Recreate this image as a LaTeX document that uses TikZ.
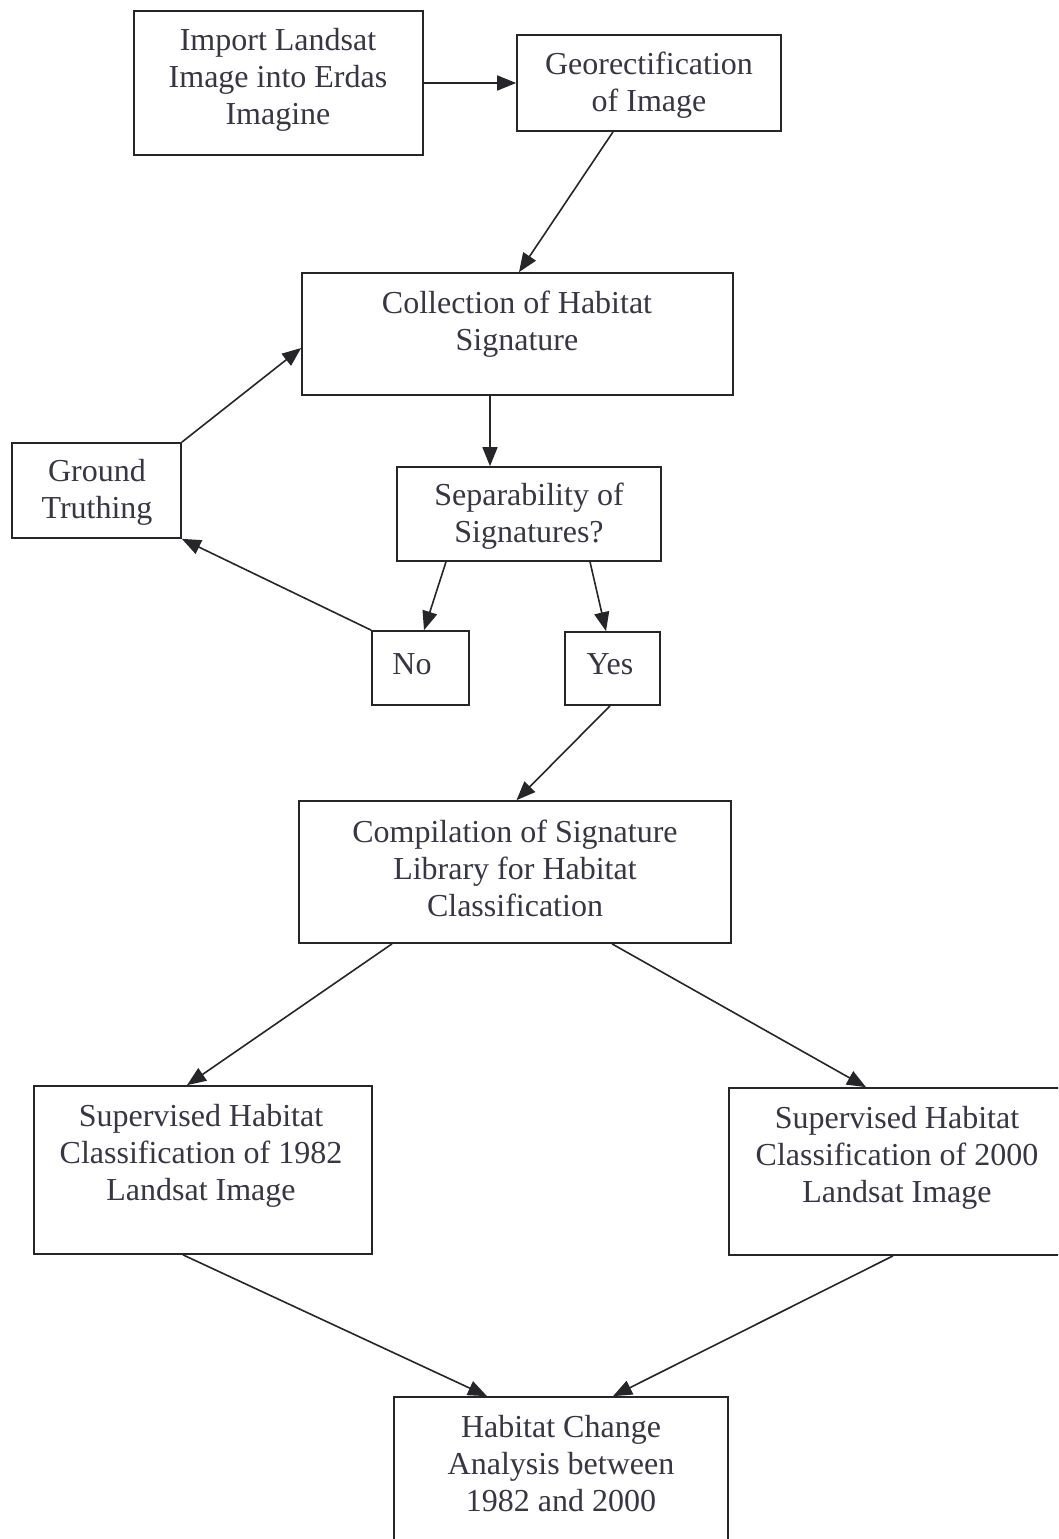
\documentclass[tikz,border=0pt]{standalone}
\usepackage{fontspec}
\setmainfont{Liberation Serif}
\usetikzlibrary{arrows.meta,calc}
\definecolor{linec}{HTML}{26262A}
\definecolor{textc}{HTML}{363644}
\begin{document}
\begin{tikzpicture}[x=1pt,y=-1pt,
  box/.style={draw=linec,line width=1.7pt,rectangle,inner sep=0pt},
  txt/.style={align=center,text=textc,inner sep=0pt,font=\fontsize{32}{37}\selectfont},
  conn/.style={draw=linec,line width=1.6pt,-{Triangle[length=19pt,width=15pt]}}]
\useasboundingbox (0,0) rectangle (1058,1539);
\clip (0,0) rectangle (1058,1539);
\fill[white] (0,0) rectangle (1058,1539);
% boxes
\node[box,minimum width=289,minimum height=144] (imp) at (278.5,83) {};
\node[box,minimum width=264,minimum height=96] (geo) at (649,83) {};
\node[box,minimum width=431,minimum height=122] (col) at (517.5,334) {};
\node[box,minimum width=169,minimum height=95] (gt) at (96.5,490.5) {};
\node[box,minimum width=264,minimum height=94] (sep) at (529,514) {};
\node[box,minimum width=97,minimum height=74] (no) at (420.5,668) {};
\node[box,minimum width=95,minimum height=73] (yes) at (612.5,668.5) {};
\node[box,minimum width=432,minimum height=142] (comp) at (515,872) {};
\node[box,minimum width=338,minimum height=168] (s82) at (203,1170) {};
\node[box,minimum width=341,minimum height=167] (s00) at (899.5,1171.5) {};
\node[box,minimum width=334,minimum height=163] (hab) at (561,1478.5) {};
% texts
\node[txt] (impt) at (278,80) {Import Landsat\\Image into Erdas\\Imagine};
\node[txt] (geot) at (649,85.5) {Georectification\\of Image};
\node[txt] (colt) at (517,324.5) {Collection of Habitat\\Signature};
\node[txt] (gtt) at (97,492.5) {Ground\\Truthing};
\node[txt] (sept) at (529,516.5) {Separability of\\Signatures?};
\node[txt] (not) at (412,664) {No};
\node[txt] (yest) at (610,664) {Yes};
\node[txt] (compt) at (515,868) {Compilation of Signature\\Library for Habitat\\Classification};
\node[txt] (s82t) at (201,1156) {Supervised Habitat\\Classification of 1982\\Landsat Image};
\node[txt] (s00t) at (897,1158) {Supervised Habitat\\Classification of 2000\\Landsat Image};
\node[txt] (habt) at (561,1464) {Habitat Change\\Analysis between\\1982 and 2000};
% connectors
\draw[conn] (imp.east) -- (geo.west);
\draw[conn] ([xshift=-36pt]geo.south) -- ([xshift=1.5pt]col.north);
\draw[conn] ([xshift=-27.5pt]col.south) -- ([xshift=-39pt]sep.north);
\draw[conn] ([xshift=-83pt]sep.south) -- ([xshift=3.5pt]no.north);
\draw[conn] ([xshift=61pt]sep.south) -- ([xshift=-6.5pt]yes.north);
\draw[conn] (no.north west) -- (gt.south east);
\draw[conn] (gt.north east) -- ([yshift=-14pt]col.west);
\draw[conn] ([xshift=-2.5pt]yes.south) -- ([xshift=1.5pt]comp.north);
\draw[conn] ([xshift=-123pt]comp.south) -- ([xshift=-16pt]s82.north);
\draw[conn] ([xshift=97pt]comp.south) -- ([xshift=-33.5pt]s00.north);
\draw[conn] ([xshift=-20pt]s82.south) -- ([xshift=-74pt]hab.north);
\draw[conn] ([xshift=-6.5pt]s00.south) -- ([xshift=52pt]hab.north);
\end{tikzpicture}
\end{document}
